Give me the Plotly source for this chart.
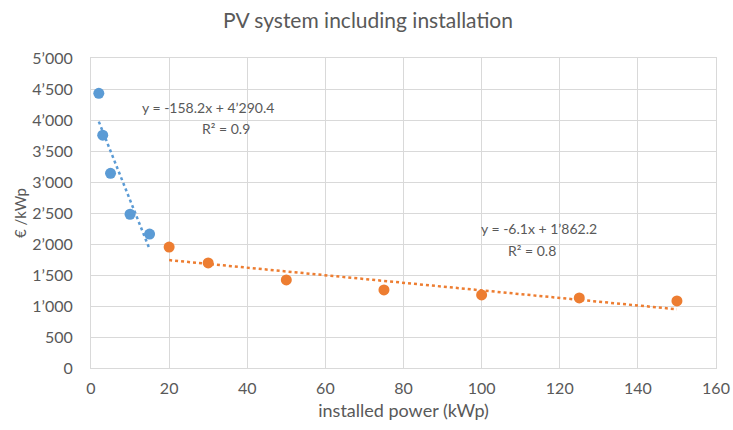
import plotly.graph_objects as go

# Small systems (blue) and larger systems (orange): installed power vs. specific cost
small_kwp = [2, 3, 5, 10, 15]
small_cost = [4430, 3755, 3140, 2480, 2160]
large_kwp = [20, 30, 50, 75, 100, 125, 150]
large_cost = [1950, 1695, 1420, 1260, 1178, 1130, 1082]

# Linear trendline coefficients (slope, intercept) and R² per group
small_fit = (-158.2, 4290.4)
large_fit = (-6.1, 1862.2)
small_r2 = 0.9
large_r2 = 0.8

y_ticks = [0, 500, 1000, 1500, 2000, 2500, 3000, 3500, 4000, 4500, 5000]
y_ticktext = ["0", "500", "1’000", "1’500", "2’000", "2’500", "3’000",
              "3’500", "4’000", "4’500", "5’000"]
x_ticks = [0, 20, 40, 60, 80, 100, 120, 140, 160]

BLUE = "#5B9BD5"
ORANGE = "#ED7D31"
TEXT = "#595959"
GRID = "#D9D9D9"
FONT = "Lato, 'Open Sans', sans-serif"


def fmt_num(v):
    return f"{abs(v):,.1f}".replace(",", "’")


def eq_text(fit):
    m, b = fit
    return f"y = {m:.1f}x + {fmt_num(b)}"


def trend(xs, fit):
    m, b = fit
    x0, x1 = min(xs), max(xs)
    return [x0, x1], [m * x0 + b, m * x1 + b]


fig = go.Figure()

tx, ty = trend(small_kwp, small_fit)
fig.add_trace(go.Scatter(x=tx, y=ty, mode="lines",
                         line=dict(color=BLUE, width=2.5, dash="dot"),
                         hoverinfo="skip", showlegend=False))
tx, ty = trend(large_kwp, large_fit)
fig.add_trace(go.Scatter(x=tx, y=ty, mode="lines",
                         line=dict(color=ORANGE, width=2.5, dash="dot"),
                         hoverinfo="skip", showlegend=False))

fig.add_trace(go.Scatter(x=small_kwp, y=small_cost, mode="markers",
                         marker=dict(color=BLUE, size=11), showlegend=False))
fig.add_trace(go.Scatter(x=large_kwp, y=large_cost, mode="markers",
                         marker=dict(color=ORANGE, size=11), showlegend=False))

ann_font = dict(family=FONT, size=14, color=TEXT)
fig.add_annotation(x=29.9, y=4200, text=eq_text(small_fit), showarrow=False, font=ann_font)
fig.add_annotation(x=34.6, y=3860, text=f"R² = {small_r2}", showarrow=False, font=ann_font)
fig.add_annotation(x=114.7, y=2245, text=eq_text(large_fit), showarrow=False, font=ann_font)
fig.add_annotation(x=112.9, y=1890, text=f"R² = {large_r2}", showarrow=False, font=ann_font)

fig.update_layout(
    width=733, height=430,
    margin=dict(l=91, r=17, t=58, b=62, autoexpand=False),
    paper_bgcolor="white", plot_bgcolor="white",
    font=dict(family=FONT, size=15, color=TEXT),
    title=dict(text="PV system including installation", x=0.502, xanchor="center",
               y=0.951, yanchor="middle",
               font=dict(family=FONT, size=21, color=TEXT)),
    xaxis=dict(range=[0, 160], tickvals=x_ticks, showgrid=True, gridcolor=GRID,
               gridwidth=1, zeroline=False, showline=True, linecolor=GRID,
               mirror=True, ticks="", ticklabelstandoff=6, automargin=False,
               tickfont=dict(size=16),
               title=dict(text="installed power (kWp)", standoff=8,
                          font=dict(family=FONT, size=18, color=TEXT))),
    yaxis=dict(range=[0, 5000], tickvals=y_ticks, ticktext=y_ticktext, showgrid=True,
               gridcolor=GRID, gridwidth=1, zeroline=False, showline=True,
               linecolor=GRID, mirror=True, ticks="", ticklabelstandoff=14,
               automargin=False, tickfont=dict(size=16),
               title=dict(text="€ /kWp", standoff=2,
                          font=dict(family=FONT, size=15, color=TEXT))),
)

fig.write_html("out.html")
